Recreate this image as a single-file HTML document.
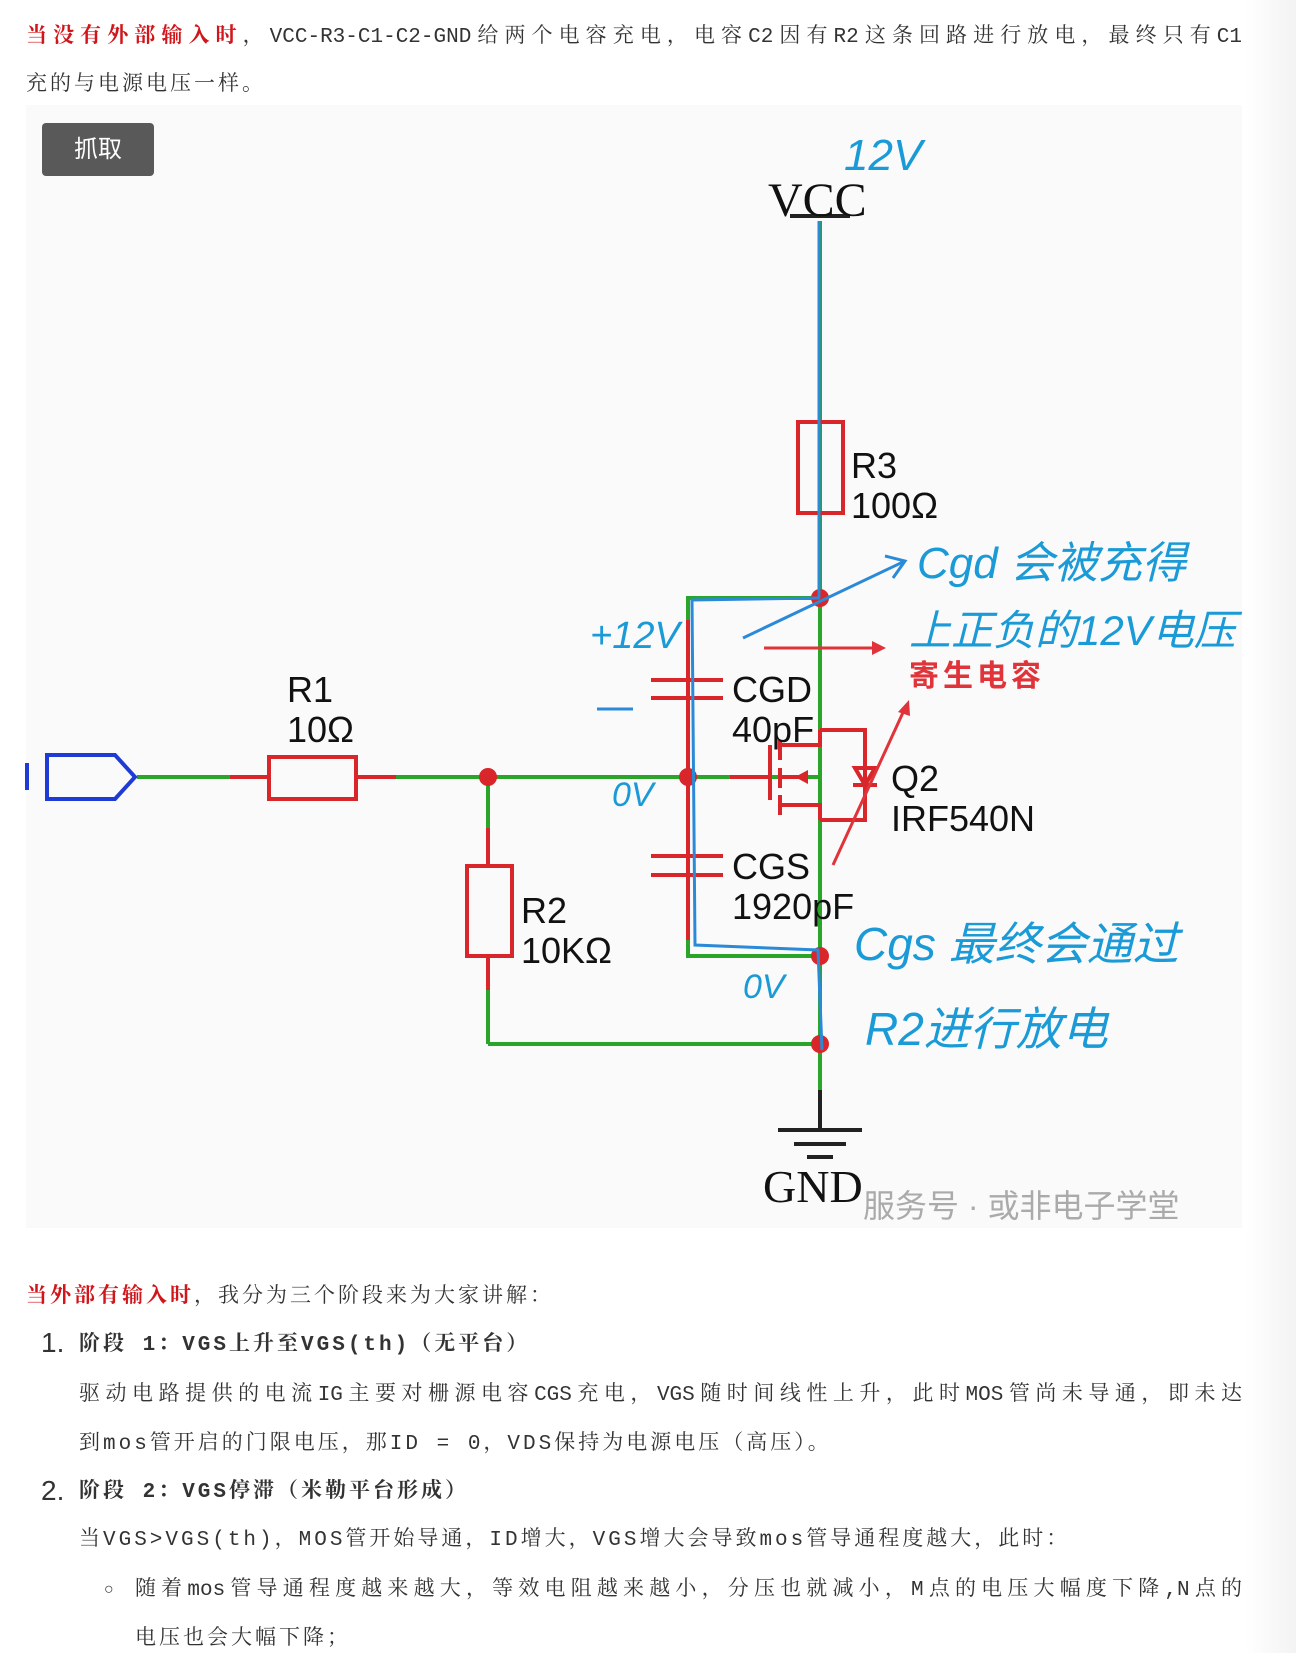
<!DOCTYPE html>
<html><head><meta charset="utf-8">
<style>
html,body{margin:0;padding:0;background:#fff;}
body{width:1296px;height:1653px;position:relative;overflow:hidden;font-family:"Liberation Mono","Noto Serif CJK SC",serif;color:#333;}
.ln{position:absolute;font-size:21px;line-height:30px;white-space:nowrap;letter-spacing:3px;}
.j{text-align:justify;text-align-last:justify;letter-spacing:0;}
.r{color:#d0161b;font-weight:bold;}
.h{font-weight:bold;}
.num{position:absolute;font-family:"Liberation Sans",sans-serif;font-size:28px;line-height:30px;}
svg{position:absolute;left:0;top:0;}
.hand{font-family:"Liberation Sans","Noto Sans CJK SC",sans-serif;font-style:italic;fill:#1a9ad6;}
</style></head><body>
<div class="ln j" style="left:26px;top:23px;width:1216px;"><span class="r">当没有外部输入时</span>，VCC-R3-C1-C2-GND给两个电容充电，电容C2因有R2这条回路进行放电，最终只有C1</div>
<div class="ln" style="left:26px;top:71px;">充的与电源电压一样。</div>

<div style="position:absolute;left:26px;top:105px;width:1216px;height:1123px;background:#fafafa;"></div>
<div style="position:absolute;left:1246px;top:0;width:50px;height:1653px;background:linear-gradient(to right,#fff,#f3f3f3);"></div>
<div style="position:absolute;left:42px;top:123px;width:112px;height:53px;background:#595959;border-radius:4px;color:#fff;font-family:'Liberation Sans','Noto Sans CJK SC',sans-serif;font-size:24px;line-height:53px;text-align:center;">抓取</div>

<svg width="1296" height="1653" viewBox="0 0 1296 1653">
 <g stroke="#2aa52a" stroke-width="4" fill="none">
  <line x1="820" y1="221" x2="820" y2="1128"/>
  <line x1="137" y1="777" x2="269" y2="777"/>
  <line x1="356" y1="777" x2="820" y2="777"/>
  <line x1="488" y1="777" x2="488" y2="865"/>
  <line x1="488" y1="956" x2="488" y2="1044"/>
  <line x1="488" y1="1044" x2="820" y2="1044"/>
  <polyline points="820,598 688,598 688,956 820,956"/>
 </g>
 <g stroke="#d8262a" stroke-width="4" fill="none">
  <rect x="798" y="422" width="45" height="91"/>
  <rect x="269" y="757" width="87" height="42"/>
  <rect x="467" y="866" width="45" height="90"/>
  <line x1="230" y1="777" x2="269" y2="777"/>
  <line x1="356" y1="777" x2="396" y2="777"/>
  <line x1="488" y1="828" x2="488" y2="865"/>
  <line x1="488" y1="956" x2="488" y2="990"/>
  <line x1="651" y1="680" x2="723" y2="680"/>
  <line x1="651" y1="698" x2="723" y2="698"/>
  <line x1="651" y1="856" x2="723" y2="856"/>
  <line x1="651" y1="875" x2="723" y2="875"/>
  <line x1="688" y1="620" x2="688" y2="940"/>
  <line x1="730" y1="777" x2="770" y2="777"/>
  <line x1="770" y1="745" x2="770" y2="800"/>
  <line x1="780" y1="740" x2="780" y2="760"/>
  <line x1="780" y1="768" x2="780" y2="788"/>
  <line x1="780" y1="795" x2="780" y2="815"/>
  <polyline points="780,745 820,745 820,730"/>
  <polyline points="780,805 820,805 820,820"/>
  <line x1="780" y1="777" x2="806" y2="777"/>
  <polyline points="820,730 865,730 865,820 820,820"/>
  <polygon points="855,768 875,768 865,785"/>
  <line x1="853" y1="785" x2="877" y2="785"/>
 </g>
 <polygon points="795,777 808,770 808,784" fill="#d8262a"/>
 <polygon points="47,755 115,755 135,777 115,799 47,799" fill="none" stroke="#1f3bd6" stroke-width="4"/>
 <line x1="27" y1="763" x2="27" y2="790" stroke="#1f3bd6" stroke-width="4"/>
 <g stroke="#222" stroke-width="4">
  <line x1="820" y1="1090" x2="820" y2="1130"/>
  <line x1="778" y1="1130" x2="862" y2="1130"/>
  <line x1="794" y1="1144" x2="846" y2="1144"/>
  <line x1="807" y1="1157" x2="833" y2="1157"/>
  <line x1="790" y1="216" x2="850" y2="216"/>
 </g>
 <g fill="#d8262a">
  <circle cx="488" cy="777" r="9"/><circle cx="688" cy="777" r="9"/>
  <circle cx="820" cy="598" r="9"/><circle cx="820" cy="956" r="9"/><circle cx="820" cy="1044" r="9"/>
 </g>
 <g stroke="#2b8ad8" stroke-width="3" fill="none">
  <line x1="819" y1="221" x2="819" y2="598"/>
  <polyline points="820,598 692,600 695,945 818,950 822,1050"/>
  <line x1="743" y1="638" x2="905" y2="561"/>
  <polyline points="885,556 905,561 893,578"/>
  <line x1="597" y1="709" x2="633" y2="709"/>
 </g>
 <g stroke="#e0333a" stroke-width="3" fill="#e0333a">
  <line x1="764" y1="648" x2="876" y2="648"/>
  <line x1="833" y1="865" x2="906" y2="706"/>
 </g>
 <polygon points="886,648 872,641 872,655" fill="#e0333a"/>
 <polygon points="909,700 898,712 910,716" fill="#e0333a"/>
 <text x="768" y="216" font-family="Liberation Serif" font-size="48" fill="#111">VCC</text>
 <text x="763" y="1202" font-family="Liberation Serif" font-size="46" fill="#111">GND</text>
 <g font-size="36" fill="#111" font-family="Liberation Sans">
  <text x="851" y="478">R3</text><text x="851" y="518">100Ω</text>
  <text x="287" y="702">R1</text><text x="287" y="742">10Ω</text>
  <text x="521" y="923">R2</text><text x="521" y="963">10KΩ</text>
  <text x="732" y="702">CGD</text><text x="732" y="742">40pF</text>
  <text x="732" y="879">CGS</text><text x="732" y="919">1920pF</text>
  <text x="891" y="791">Q2</text><text x="891" y="831">IRF540N</text>
 </g>
 <text x="863" y="1217" font-family="Liberation Sans,Noto Sans CJK SC,sans-serif" font-size="32" fill="#aaa">服务号 · 或非电子学堂</text>
 <g class="hand">
  <text x="844" y="170" font-size="44">12V</text>
  <text x="917" y="578" font-size="44">Cgd 会被充得</text>
  <text x="909" y="645" font-size="42">上正负的12V电压</text>
  <text x="590" y="648" font-size="38">+12V</text>
  <text x="612" y="806" font-size="34">0V</text>
  <text x="854" y="960" font-size="46">Cgs 最终会通过</text>
  <text x="743" y="998" font-size="34">0V</text>
  <text x="865" y="1045" font-size="46">R2进行放电</text>
 </g>
 <text x="909" y="686" font-family="Noto Sans CJK SC,sans-serif" font-weight="bold" font-size="30" fill="#e0333a" letter-spacing="4">寄生电容</text>
</svg>

<div class="ln" style="left:26px;top:1283px;"><span class="r">当外部有输入时</span>，我分为三个阶段来为大家讲解：</div>
<div class="num" style="left:41px;top:1328px;">1.</div>
<div class="ln h" style="left:79px;top:1331px;">阶段 1：VGS上升至VGS(th)（无平台）</div>
<div class="ln j" style="left:79px;top:1381px;width:1163px;">驱动电路提供的电流IG主要对栅源电容CGS充电，VGS随时间线性上升，此时MOS管尚未导通，即未达</div>
<div class="ln" style="left:79px;top:1430px;">到mos管开启的门限电压，那ID = 0，VDS保持为电源电压（高压）。</div>
<div class="num" style="left:41px;top:1476px;">2.</div>
<div class="ln h" style="left:79px;top:1478px;">阶段 2：VGS停滞（米勒平台形成）</div>
<div class="ln" style="left:79px;top:1526px;">当VGS&gt;VGS(th)，MOS管开始导通，ID增大，VGS增大会导致mos管导通程度越大，此时：</div>
<div class="ln" style="left:104px;top:1575px;font-size:16px;">○</div>
<div class="ln j" style="left:135px;top:1576px;width:1107px;">随着mos管导通程度越来越大，等效电阻越来越小，分压也就减小，M点的电压大幅度下降,N点的</div>
<div class="ln" style="left:135px;top:1625px;">电压也会大幅下降；</div>
</body></html>
